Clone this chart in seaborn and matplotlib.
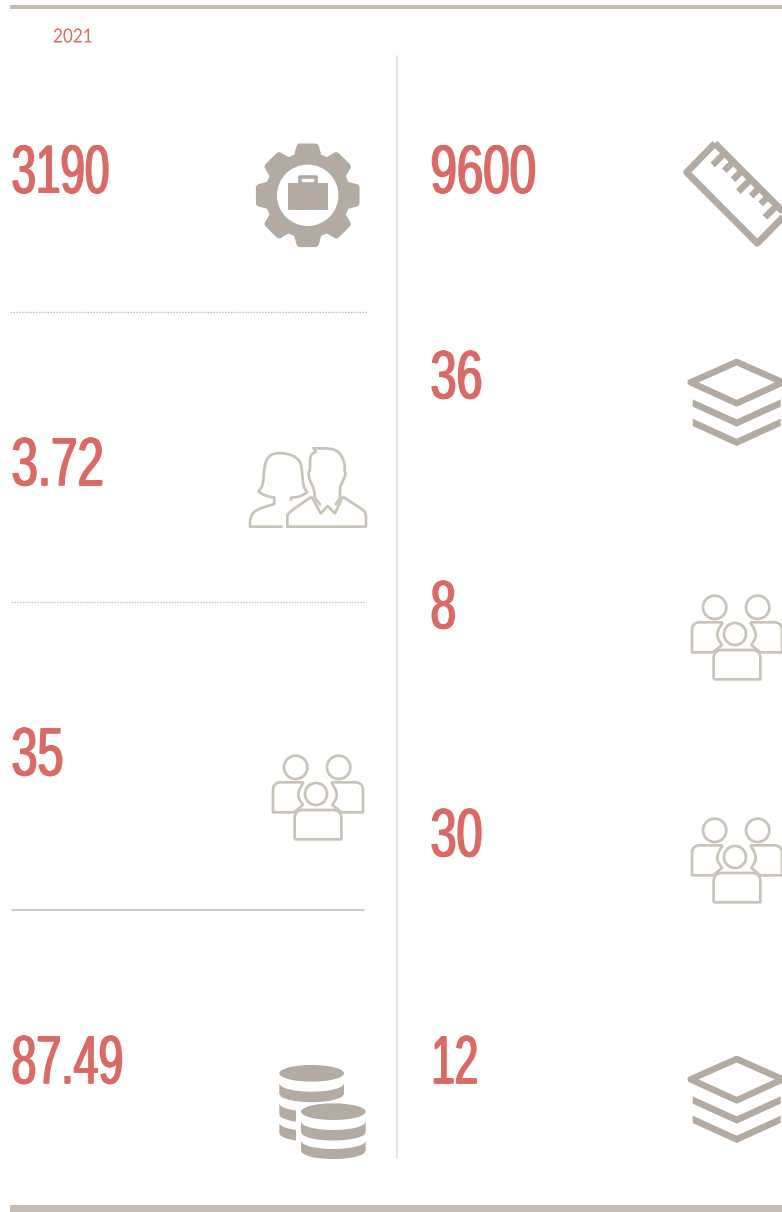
import numpy as np
import matplotlib
matplotlib.use("Agg")
import matplotlib.pyplot as plt
from matplotlib.patches import Circle, Polygon, Ellipse
from matplotlib.patheffects import AbstractPathEffect
from matplotlib.transforms import Affine2D
import seaborn as sns

YEAR = "2021"
LEFT_VALUES = ["3190", "3.72", "35", "87.49"]
RIGHT_VALUES = ["9600", "36", "8", "30", "12"]

RED = "#d96a66"
FILL = "#b3aba2"
LINE = "#c9c3ba"
RULE = "#c5bdb3"
VLINE = "#e8e5dc"
DOTS = "#c4bfb7"

sns.set_theme(style="white")
plt.rcParams["font.family"] = ["Liberation Sans", "DejaVu Sans"]

W, H = 782, 1212
fig = plt.figure(figsize=(W / 100, H / 100), dpi=100, facecolor="white")
ax = fig.add_axes([0, 0, 1, 1])
ax.set_xlim(0, W)
ax.set_ylim(H, 0)
ax.axis("off")
sns.despine(ax=ax, left=True, bottom=True)


def px(v):
    return v * 72 / 100


class Squeeze(AbstractPathEffect):
    """Narrows the glyphs around the text anchor; repeated draws thicken the vertical stems only."""
    def __init__(self, x0, sx, offsets=(0,)):
        super().__init__()
        self.x0, self.sx, self.offsets = x0, sx, offsets

    def draw_path(self, renderer, gc, tpath, affine, rgbFace=None):
        x_px = ax.transData.transform((self.x0, 0))[0]
        for dx in self.offsets:
            t = affine + Affine2D().translate(-x_px, 0).scale(self.sx, 1).translate(x_px + dx, 0)
            renderer.draw_path(gc, tpath, t, rgbFace)


def value(txt, x, base, sx):
    ax.text(x, base, txt, color=RED, fontsize=49.5, va="baseline", ha="left",
            family=["Liberation Sans", "DejaVu Sans"],
            path_effects=[Squeeze(x, sx, offsets=(-1.0, -0.33, 0.33, 1.0))])


def smooth(pts, n=2):
    p = np.array(pts, float)
    for _ in range(n):
        q = [p[0]]
        for a, b in zip(p[:-1], p[1:]):
            q += [0.75 * a + 0.25 * b, 0.25 * a + 0.75 * b]
        q.append(p[-1])
        p = np.array(q)
    return p


def stroke(pts, ox, oy, color=LINE, lw=2.7, s=1 / 3, sm=3):
    p = smooth(pts, sm) if sm else np.array(pts, float)
    ax.plot(ox + p[:, 0] * s, oy + p[:, 1] * s, color=color, lw=px(lw),
            solid_capstyle="butt", solid_joinstyle="round")


def gear(cx, cy):
    verts = []
    c = np.array([cx, cy])
    for k in range(8):
        a = -np.pi / 2 + k * np.pi / 4
        d = np.array([np.cos(a), np.sin(a)])
        n = np.array([-d[1], d[0]])
        verts += [c + d * 38 - n * 10.5, c + d * 48.3 - n * 7.8,
                  c + d * 48.3 + n * 7.8, c + d * 38 + n * 10.5]
    ax.add_patch(Polygon(verts, closed=True, fc=FILL, ec=FILL, lw=px(7), joinstyle="round"))
    ax.add_patch(Circle((cx, cy), 30.7, fc="white", ec="none"))
    ax.add_patch(Polygon([(289, 184), (326.5, 184), (326.5, 209), (289, 209)], closed=True,
                         fc=FILL, ec=FILL, lw=px(2), joinstyle="round"))
    ax.add_patch(Polygon([(299.5, 184), (299.5, 177), (316, 177), (316, 184)], closed=True,
                         fc="none", ec=FILL, lw=px(3.6), joinstyle="round"))


def couple(ox, oy):
    # repeated points keep a sharp corner through the smoothing
    stroke([(158, 290), (60, 290), (60, 290), (60, 262), (75, 240), (133, 222), (133, 222), (133, 203),
            (133, 203), (105, 197), (85, 185), (85, 185), (100, 165), (103, 100), (122, 72), (155, 68),
            (190, 76), (212, 95), (217, 130), (220, 170), (232, 187), (232, 187), (210, 200),
            (183, 203), (183, 203), (183, 212)], ox, oy)
    stroke([(245, 200), (245, 200), (172, 250), (172, 265), (172, 290), (172, 290), (408, 290), (408, 290),
            (408, 250), (400, 240), (338, 200), (338, 200)], ox, oy, sm=2)
    stroke([(245, 200), (272, 250), (293, 228), (315, 250), (338, 200)], ox, oy, sm=0)
    stroke([(255, 205), (255, 205), (252, 175), (238, 150), (235, 125), (240, 125), (240, 75), (258, 65), (258, 65),
            (250, 55), (250, 55), (300, 55), (328, 65), (345, 100), (343, 125), (348, 130), (340, 150),
            (330, 170), (330, 205), (330, 205)], ox, oy, sm=2)
    stroke([(255, 205), (272, 225)], ox, oy, sm=0)
    stroke([(330, 205), (315, 225)], ox, oy, sm=0)


def group(ox, oy):
    s = 1 / 3
    for cx, cy, r in [(83, 52, 35), (212, 52, 35), (144, 132, 33)]:
        ax.add_patch(Circle((ox + cx * s, oy + cy * s), r * s, fc="none", ec=LINE, lw=px(2.7)))
    stroke([(107, 97), (107, 97), (65, 97), (15, 97), (15, 147), (15, 187), (15, 187), (78, 187), (78, 187)], ox, oy)
    stroke([(107, 97), (107, 97), (92, 122), (90, 142), (105, 165), (105, 165), (78, 187), (78, 187)], ox, oy)
    stroke([(190, 97), (190, 97), (235, 97), (285, 97), (285, 147), (285, 187), (285, 187), (220, 187), (220, 187)], ox, oy)
    stroke([(190, 97), (190, 97), (205, 122), (207, 142), (193, 165), (193, 165), (220, 187), (220, 187)], ox, oy)
    stroke([(80, 268), (80, 268), (80, 232), (80, 180), (132, 180), (168, 180), (220, 180), (220, 232),
            (220, 268), (220, 268), (80, 268), (80, 268)], ox, oy)


def band(cx, ytop, h, rx, ry, x0, x1):
    xs = np.linspace(x0, x1, 50)
    arc = ytop + ry * np.sqrt(np.clip(1 - ((xs - cx) / rx) ** 2, 0, 1))
    pts = list(zip(xs, arc)) + list(zip(xs[::-1], (arc + h)[::-1]))
    ax.add_patch(Polygon(pts, closed=True, fc=FILL, ec="none"))


def coins(ox, oy):
    s = 1 / 3
    cx1, cx2, rx, ry = ox + 155 * s, ox + 220 * s, 97 * s, 25 * s
    ax.add_patch(Ellipse((cx1, oy + 70 * s), 2 * rx, 2 * ry, fc=FILL, ec="none"))
    band(cx1, oy + 100 * s, 10.5, rx, ry, cx1 - rx, cx1 + rx)
    band(cx1, oy + 160 * s, 11, rx, ry, cx1 - rx, ox + 108 * s)
    band(cx1, oy + 218 * s, 10.5, rx, ry, cx1 - rx, ox + 108 * s)
    ax.add_patch(Ellipse((cx2, oy + 185 * s), 2 * rx, 2 * ry, fc=FILL, ec="none"))
    band(cx2, oy + 215 * s, 10.5, rx, ry, cx2 - rx, cx2 + rx)
    band(cx2, oy + 272 * s, 10, rx, ry, cx2 - rx, cx2 + rx)


def ruler(ox, oy):
    s = 1 / 3
    outline = [(135, 40), (50, 127), (262, 340), (347, 253)]
    pts = [(ox + x * s, oy + y * s) for x, y in outline]
    ax.add_patch(Polygon(pts, closed=True, fc="none", ec=FILL, lw=px(6.8), joinstyle="round"))
    for xpy, xmy in [(233, 23), (285, 41), (338, 40), (390, 20), (442, 45), (494, 50), (547, 23)]:
        b = 95
        start = ((xpy + b) / 2, (xpy - b) / 2)
        end = ((xpy + xmy) / 2, (xpy - xmy) / 2)
        ax.plot([ox + start[0] * s, ox + end[0] * s], [oy + start[1] * s, oy + end[1] * s],
                color=FILL, lw=px(6.5), solid_capstyle="butt")


def layers(ox, oy):
    s = 1 / 3
    d = [(200, 36), (62, 97), (200, 160), (338, 97)]
    ax.add_patch(Polygon([(ox + x * s, oy + y * s) for x, y in d], closed=True, fc="none",
                         ec=FILL, lw=px(6.5), joinstyle="round"))
    for dy in (0, 58):
        c = [(68, 148), (200, 208), (332, 148), (332, 170), (200, 230), (68, 170)]
        ax.add_patch(Polygon([(ox + x * s, oy + (y + dy) * s) for x, y in c], closed=True,
                             fc=FILL, ec="none"))


# rules
ax.fill_between([10, W], 5, 8.7, color=RULE, lw=0)
ax.fill_between([10, W], 1205, H, color=RULE, lw=0)
ax.plot([397, 397], [56, 1158], color=VLINE, lw=px(2))
ax.plot([10, 367], [312, 312], color=DOTS, lw=px(1.3), ls=(0, (1.2, 1.0)))
ax.plot([11, 366], [602, 602], color=DOTS, lw=px(1.3), ls=(0, (1.2, 1.0)))
ax.plot([12, 364], [910, 910], color=RULE, lw=px(1.6))

# year
ax.text(53, 42.5, YEAR, color=RED, fontsize=14, family=["Lato", "DejaVu Sans"], fontweight="normal",
        va="baseline", ha="left", path_effects=[Squeeze(53, 0.88)])

# numbers
for txt, base, sx in zip(LEFT_VALUES, (193, 485.5, 775.5, 1083.5), (0.64, 0.69, 0.68, 0.65)):
    value(txt, 11.5, base, sx)
for txt, base, sx, x in zip(RIGHT_VALUES, (193, 398.5, 628.5, 856.5, 1083.5),
                            (0.69, 0.68, 0.67, 0.68, 0.61), (430.5, 430.5, 430.5, 430.5, 431.5)):
    value(txt, x, base, sx)

# icons
gear(307.7, 195.3)
couple(230, 430)
group(268, 750)
coins(260, 1050)
ruler(670, 130)
layers(670, 350)
group(687, 590)
group(687, 813)
layers(670, 1047)

fig.savefig("out.png", dpi=100, facecolor="white")
